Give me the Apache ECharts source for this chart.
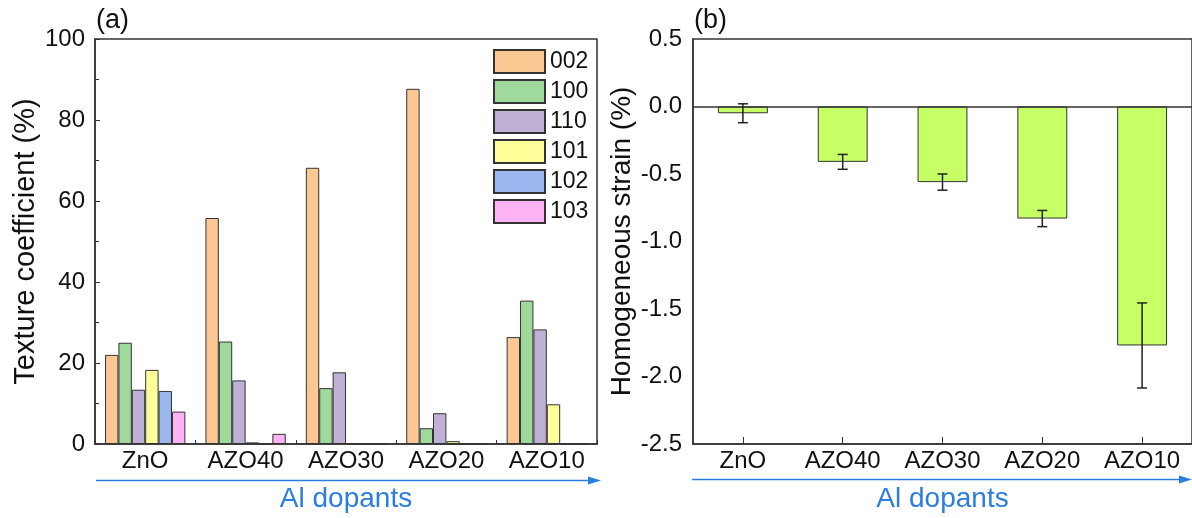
<!DOCTYPE html>
<html>
<head>
<meta charset="utf-8">
<script src="https://cdn.jsdelivr.net/npm/echarts@6/dist/echarts.min.js"></script>
<style>
html,body{margin:0;padding:0;background:#fff;}
#c{width:1192px;height:518px;}
</style>
</head>
<body>
<div id="c"></div>
<script>
// ---- data ----
const categories = ['ZnO', 'AZO40', 'AZO30', 'AZO20', 'AZO10'];
const planes = ['002', '100', '110', '101', '102', '103'];
const tc002 = [22.0, 55.8, 68.2, 87.7, 26.4];
const tc100 = [25.0, 25.3, 13.8, 3.9, 35.4];
const tc110 = [13.4, 15.7, 17.7, 7.6, 28.3];
const tc101 = [18.3, 0.4, 0.2, 0.7, 9.8];
const tc102 = [13.1, 0, 0, 0, 0];
const tc103 = [8.0, 2.5, 0, 0, 0];
const strain = [-0.05, -0.41, -0.56, -0.83, -1.77];
const strainErr = [0.07, 0.055, 0.06, 0.06, 0.315];
const tcTicks = [0, 20, 40, 60, 80, 100];
const strainTicks = [-2.5, -2.0, -1.5, -1.0, -0.5, 0.0, 0.5];

const tcSeries = [tc002, tc100, tc110, tc101, tc102, tc103];
const planeColors = ['#FBC793', '#A0D99C', '#C1B0D6', '#FFFF99', '#9BB9F0', '#FDB3F5'];
const FONT = 'Liberation Sans, Arial, sans-serif';
const AXC = '#333';
const BLUE = '#2A7DE1';

const chart = echarts.init(document.getElementById('c'), null, {renderer: 'canvas'});

const series = planes.map((p, k) => ({
  name: p,
  type: 'bar',
  xAxisIndex: 0, yAxisIndex: 0,
  data: tcSeries[k],
  barGap: '0%',
  barCategoryGap: '20%',
  itemStyle: {color: planeColors[k], borderColor: AXC, borderWidth: 1},
  emphasis: {disabled: true},
  animation: false
}));

series.push({
  name: 'strain',
  type: 'bar',
  xAxisIndex: 1, yAxisIndex: 1,
  data: strain,
  barWidth: '50%',
  itemStyle: {color: '#C6FF66', borderColor: AXC, borderWidth: 1},
  emphasis: {disabled: true},
  animation: false,
  markLine: {
    silent: true,
    symbol: ['none', 'none'],
    label: {show: false},
    lineStyle: {color: AXC, width: 1.5, type: 'solid'},
    data: [{yAxis: 0}],
    animation: false
  }
});

series.push({
  name: 'err',
  type: 'custom',
  xAxisIndex: 1, yAxisIndex: 1,
  z: 10,
  animation: false,
  data: strain.map((v, i) => [i, v - strainErr[i], v + strainErr[i]]),
  encode: {x: 0, y: [1, 2]},
  renderItem: function (params, api) {
    const i = api.value(0);
    const lo = api.coord([i, api.value(1)]);
    const hi = api.coord([i, api.value(2)]);
    const hw = 5;
    const st = {stroke: '#222', lineWidth: 1.5};
    return {
      type: 'group',
      children: [
        {type: 'line', shape: {x1: lo[0], y1: lo[1], x2: hi[0], y2: hi[1]}, style: st},
        {type: 'line', shape: {x1: lo[0] - hw, y1: lo[1], x2: lo[0] + hw, y2: lo[1]}, style: st},
        {type: 'line', shape: {x1: hi[0] - hw, y1: hi[1], x2: hi[0] + hw, y2: hi[1]}, style: st}
      ]
    };
  }
});

const option = {
  backgroundColor: '#fff',
  animation: false,
  textStyle: {fontFamily: FONT},
  grid: [
    {left: 95, top: 39, width: 502, height: 405, show: true, borderColor: AXC, borderWidth: 1.5, backgroundColor: 'transparent'},
    {left: 693, top: 39, width: 502, height: 405, show: true, borderColor: AXC, borderWidth: 1.5, backgroundColor: 'transparent'}
  ],
  legend: {
    data: planes,
    orient: 'vertical',
    left: 493, top: 49,
    padding: 0,
    itemWidth: 51, itemHeight: 23, itemGap: 5,
    icon: 'rect',
    selectedMode: false,
    textStyle: {fontSize: 23, color: '#111', fontFamily: FONT}
  },
  xAxis: [
    {
      type: 'category', gridIndex: 0, data: categories,
      axisLine: {lineStyle: {color: AXC, width: 1.5}},
      axisTick: {show: true, inside: true, length: 4, lineStyle: {color: AXC}},
      axisLabel: {fontSize: 24, color: '#111', margin: 5, fontFamily: FONT},
      name: 'Al dopants', nameLocation: 'middle', nameGap: 41,
      nameTextStyle: {fontSize: 28, color: BLUE, fontFamily: FONT}
    },
    {
      type: 'category', gridIndex: 1, data: categories,
      axisLine: {onZero: false, lineStyle: {color: AXC, width: 1.5}},
      axisTick: {show: true, inside: true, length: 7, alignWithLabel: true, lineStyle: {color: AXC}},
      axisLabel: {fontSize: 24, color: '#111', margin: 5, fontFamily: FONT},
      name: 'Al dopants', nameLocation: 'middle', nameGap: 41,
      nameTextStyle: {fontSize: 28, color: BLUE, fontFamily: FONT}
    }
  ],
  yAxis: [
    {
      type: 'value', gridIndex: 0,
      min: tcTicks[0], max: tcTicks[tcTicks.length - 1], interval: 20,
      splitLine: {show: false},
      axisLine: {show: true, lineStyle: {color: AXC, width: 1.5}},
      axisTick: {show: true, inside: true, length: 5, lineStyle: {color: AXC}},
      minorTick: {show: true, splitNumber: 2, length: 4, lineStyle: {color: AXC}},
      axisLabel: {fontSize: 24, color: '#111', margin: 10, fontFamily: FONT},
      name: 'Texture coefficient (%)', nameLocation: 'middle', nameGap: 55,
      nameTextStyle: {fontSize: 29, color: '#111', fontFamily: FONT}
    },
    {
      type: 'value', gridIndex: 1,
      min: strainTicks[0], max: strainTicks[strainTicks.length - 1], interval: 0.5,
      splitLine: {show: false},
      axisLine: {show: true, lineStyle: {color: AXC, width: 1.5}},
      axisTick: {show: false},
      axisLabel: {fontSize: 24, color: '#111', margin: 11, fontFamily: FONT, formatter: v => v.toFixed(1)},
      name: 'Homogeneous strain (%)', nameLocation: 'middle', nameGap: 56,
      nameTextStyle: {fontSize: 28, color: '#111', fontFamily: FONT}
    }
  ],
  graphic: [
    {type: 'text', left: 96, top: 7, style: {text: '(a)', font: '27px ' + FONT, fill: '#111'}},
    {type: 'text', left: 694, top: 7, style: {text: '(b)', font: '27px ' + FONT, fill: '#111'}},
    {type: 'line', shape: {x1: 96, y1: 480.5, x2: 590, y2: 480.5}, style: {stroke: BLUE, lineWidth: 1.5}},
    {type: 'polygon', shape: {points: [[588, 476.5], [601, 480.5], [588, 484.5]]}, style: {fill: BLUE}},
    {type: 'line', shape: {x1: 692, y1: 479.5, x2: 1182, y2: 479.5}, style: {stroke: BLUE, lineWidth: 1.5}},
    {type: 'polygon', shape: {points: [[1179, 475.5], [1192, 479.5], [1179, 483.5]]}, style: {fill: BLUE}}
  ],
  series: series
};

chart.setOption(option);
</script>
</body>
</html>
